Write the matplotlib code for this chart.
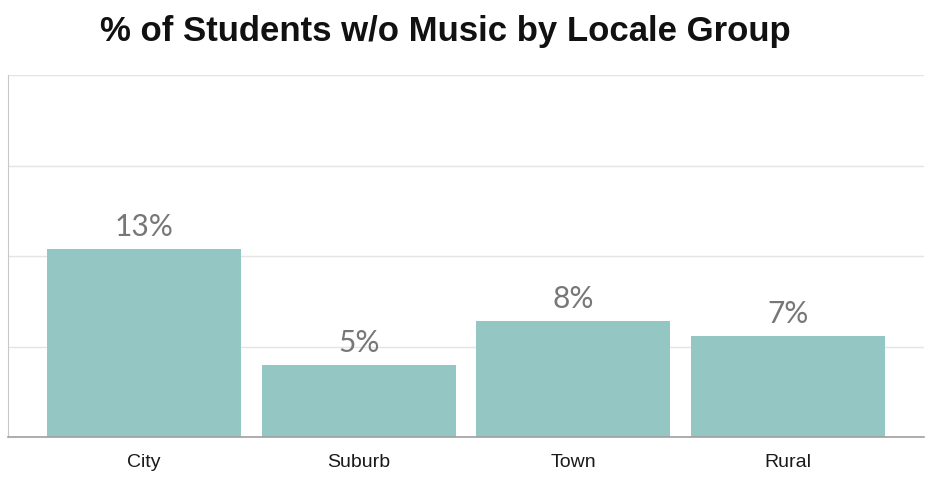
import numpy as np
import matplotlib
matplotlib.use("Agg")
from matplotlib import pyplot as plt

# data
locales = ["City", "Suburb", "Town", "Rural"]
pct_no_music = [13, 5, 8, 7]
bar_labels = ["13%", "5%", "8%", "7%"]

bar_color = "#94c6c3"

fig = plt.figure(figsize=(9.42, 4.84), dpi=100)
ax = fig.add_axes([8 / 942, 1 - 437 / 484, 916 / 942, 362 / 484])

x = np.arange(len(locales))
bars = ax.bar(x, pct_no_music, width=0.905, color=bar_color, zorder=2)

for b, lab in zip(bars, bar_labels):
    ax.text(b.get_x() + b.get_width() / 2, b.get_height() + 0.55, lab,
            ha="center", va="bottom", fontsize=21.5, color="#777777",
            family="Lato", zorder=3)

ax.set_xlim(-0.634, 3.634)
ax.set_ylim(0, 25)
ax.set_yticks([0, 6.25, 12.5, 18.75, 25])
ax.set_yticklabels([])
ax.tick_params(axis="y", length=0)
ax.grid(axis="y", color="#e4e4e4", linewidth=1, zorder=0)
ax.set_xticks(x)
ax.set_xticklabels(locales, fontsize=14, family="Liberation Sans", color="#1a1a1a")
ax.tick_params(axis="x", length=0, pad=12)

for s in ["top", "right"]:
    ax.spines[s].set_visible(False)
ax.spines["left"].set_color("#c8c8c8")
ax.spines["bottom"].set_color("#a0a0a0")
ax.spines["bottom"].set_linewidth(1.2)

fig.text(445 / 942, 1 - 32 / 484, "% of Students w/o Music by Locale Group",
         ha="center", va="center", fontsize=25, fontweight="bold",
         family="Liberation Sans", color="#111111")

fig.savefig("out.png", dpi=100)
